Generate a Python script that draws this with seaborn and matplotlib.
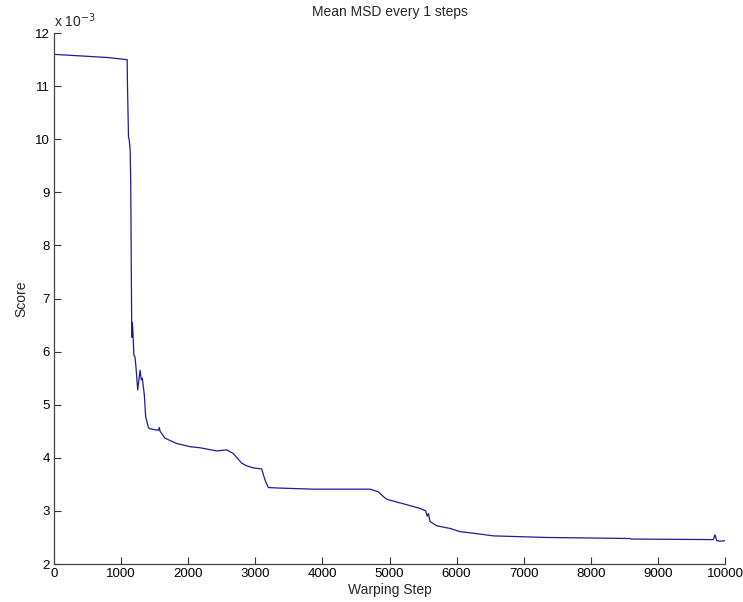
import matplotlib
matplotlib.use('Agg')
import matplotlib.pyplot as plt
import seaborn as sns
import pandas as pd

# values (score in units of 1e-3)
step = [0, 400, 800, 1090, 1095, 1110, 1120, 1135, 1143, 1148,
        1152, 1157, 1162, 1167, 1175, 1190, 1207, 1222, 1247, 1282,
        1300, 1316, 1346, 1366, 1405, 1421, 1500, 1555, 1570, 1580,
        1654, 1828, 2027, 2176, 2424, 2574, 2673, 2797, 2872, 2970,
        3095, 3145, 3194, 3368, 3860, 4709, 4784, 4834, 4908, 4958,
        5100, 5250, 5300, 5450, 5540, 5560, 5580, 5604, 5703, 5902,
        6051, 6249, 6547, 7342, 7988, 8584, 8609, 9826, 9851, 9876,
        9925, 10000]
score = [11.60, 11.57, 11.54, 11.50, 11.00, 10.04, 10.00, 9.80, 9.19, 8.3,
         7.5, 6.6, 6.27, 6.55, 6.4, 5.94, 5.9, 5.7, 5.28, 5.65,
         5.47, 5.5, 5.18, 4.77, 4.58, 4.55, 4.53, 4.52, 4.57, 4.5,
         4.37, 4.27, 4.21, 4.19, 4.13, 4.15, 4.08, 3.9, 3.85, 3.81,
         3.79, 3.58, 3.44, 3.43, 3.41, 3.41, 3.38, 3.36, 3.27, 3.22,
         3.17, 3.12, 3.1, 3.05, 3.0, 2.9, 2.95, 2.80, 2.72, 2.67,
         2.61, 2.58, 2.53, 2.50, 2.49, 2.48, 2.47, 2.46, 2.55, 2.44,
         2.43, 2.44]
xticks = [0, 1000, 2000, 3000, 4000, 5000, 6000, 7000, 8000, 9000, 10000]
yticks = [2, 3, 4, 5, 6, 7, 8, 9, 10, 11, 12]

df = pd.DataFrame({'Warping Step': step, 'Score': score})

sns.set_style('ticks')
plt.rcParams['font.family'] = ['Liberation Sans', 'DejaVu Sans']
plt.rcParams['xtick.direction'] = 'in'
plt.rcParams['ytick.direction'] = 'in'

fig = plt.figure(figsize=(7.43, 6.02), dpi=100)
ax = fig.add_axes([0.0727, 0.0631, 0.9031, 0.8819])

sns.lineplot(data=df, x='Warping Step', y='Score', sort=False, estimator=None,
             color='#1c1c9c', linewidth=0.9, ax=ax)

ax.set_xlim(0, 10000)
ax.set_ylim(2, 12)
ax.set_xticks(xticks)
ax.set_yticks(yticks)
ax.tick_params(length=5, width=0.8, labelsize=9.5, colors='#333333',
               labelcolor='black', pad=3)
sns.despine(ax=ax)
for s in ['left', 'bottom']:
    ax.spines[s].set_color('#444444')
    ax.spines[s].set_linewidth(0.9)

ax.set_xlabel('Warping Step', fontsize=10, labelpad=2)
ax.set_ylabel('Score', fontsize=10, labelpad=5)
ax.set_title('Mean MSD every 1 steps', fontsize=10, pad=12)
ax.text(0.0, 1.006, r'x 10$^{-3}$', transform=ax.transAxes, fontsize=10,
        ha='left', va='bottom')

fig.savefig('out.png', dpi=100)
